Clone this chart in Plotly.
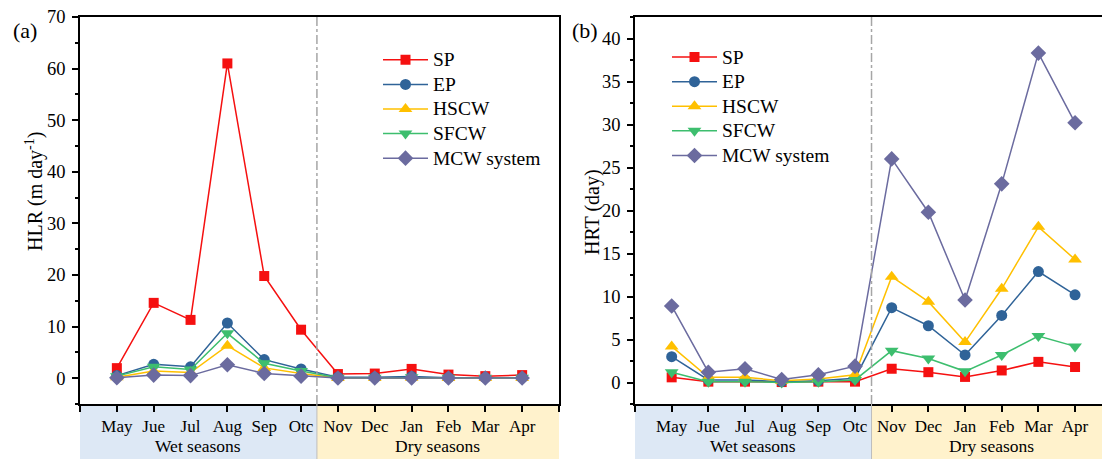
import plotly.graph_objects as go

months = ["May", "Jue", "Jul", "Aug", "Sep", "Otc", "Nov", "Dec", "Jan", "Feb", "Mar", "Apr"]
series_names = ["SP", "EP", "HSCW", "SFCW", "MCW system"]

# HLR (m day-1)
hlr_sp = [1.95, 14.6, 11.3, 61.0, 19.8, 9.4, 0.8, 0.9, 1.8, 0.7, 0.4, 0.6]
hlr_ep = [0.5, 2.7, 2.2, 10.7, 3.6, 1.8, 0.2, 0.2, 0.35, 0.1, 0.1, 0.1]
hlr_hscw = [0.2, 1.4, 1.1, 6.3, 2.0, 0.9, 0.05, 0.05, 0.1, 0.05, 0.05, 0.05]
hlr_sfcw = [0.4, 2.2, 1.7, 8.7, 2.9, 1.4, 0.1, 0.1, 0.2, 0.1, 0.1, 0.1]
hlr_mcw = [0.1, 0.6, 0.5, 2.6, 0.9, 0.4, 0.03, 0.03, 0.05, 0.03, 0.03, 0.03]

# HRT (day)
hrt_sp = [0.6, 0.1, 0.1, 0.05, 0.1, 0.1, 1.6, 1.2, 0.65, 1.4, 2.4, 1.8]
hrt_ep = [3.0, 0.3, 0.3, 0.1, 0.2, 0.5, 8.7, 6.6, 3.2, 7.8, 12.9, 10.2]
hrt_hscw = [4.2, 0.6, 0.6, 0.2, 0.4, 0.9, 12.3, 9.4, 4.7, 10.9, 18.1, 14.3]
hrt_sfcw = [1.2, 0.1, 0.1, 0.0, 0.1, 0.3, 3.7, 2.8, 1.3, 3.2, 5.4, 4.2]
hrt_mcw = [8.9, 1.2, 1.6, 0.35, 0.9, 1.9, 26.0, 19.8, 9.6, 23.1, 38.3, 30.2]

season_labels = ["Wet seasons", "Dry seasons"]

colors = ["#F51010", "#2F6398", "#FFC000", "#3DBE6E", "#6B6B9F"]
symbols = ["square", "circle", "triangle-up", "triangle-down", "diamond"]
msizes = [10, 11, 12, 12, 12]

FONT = "Liberation Serif"
xidx = list(range(len(months)))

fig = go.Figure()
left = [hlr_sp, hlr_ep, hlr_hscw, hlr_sfcw, hlr_mcw]
right = [hrt_sp, hrt_ep, hrt_hscw, hrt_sfcw, hrt_mcw]


def leg_name(n):
    return f"<span style='font-size:19.5px'>{n}</span>"


for i, name in enumerate(series_names):
    fig.add_trace(go.Scatter(x=xidx, y=left[i], name=leg_name(name), mode="lines+markers",
                             line=dict(color=colors[i], width=1.5),
                             marker=dict(symbol=symbols[i], size=msizes[i], color=colors[i]),
                             xaxis="x", yaxis="y", legend="legend"))
for i, name in enumerate(series_names):
    fig.add_trace(go.Scatter(x=xidx, y=right[i], name=leg_name(name), mode="lines+markers",
                             line=dict(color=colors[i], width=1.5),
                             marker=dict(symbol=symbols[i], size=msizes[i], color=colors[i]),
                             xaxis="x2", yaxis="y2", legend="legend2"))

W, H = 1102, 459
tickvals = list(range(-1, 13))
ticktext = [""] + months + [""]

xl_range = [-1, 12]
xr_range = [-1, 11.735]
div_l = 5.43
div_r = 5.45
band_y = -0.141


def xaxis(domain, rng):
    return dict(domain=domain, range=rng, tickvals=tickvals, ticktext=ticktext,
                ticks="outside", ticklen=6, tickwidth=1.5, tickcolor="black",
                showline=True, linecolor="black", linewidth=1.5, mirror=True,
                showgrid=False, zeroline=False,
                tickfont=dict(family=FONT, size=17, color="black"), ticklabelstandoff=0)


fig.update_layout(
    width=W, height=H,
    margin=dict(l=0, r=0, t=17, b=55),
    paper_bgcolor="white", plot_bgcolor="white",
    xaxis=xaxis([80 / W, 559 / W], xl_range),
    xaxis2=xaxis([635 / W, 1.0], xr_range),
    yaxis=dict(anchor="x", range=[-5, 70], tickvals=list(range(0, 71, 10)),
               ticks="outside", ticklen=6, tickwidth=1.5, tickcolor="black",
               minor=dict(dtick=5, tick0=0, ticks="outside", ticklen=3.5, tickwidth=1.5, tickcolor="black"),
               showline=True, linecolor="black", linewidth=1.5, mirror=True,
               showgrid=False, zeroline=False,
               tickfont=dict(family=FONT, size=18.5, color="black"), ticklabelstandoff=3),
    yaxis2=dict(anchor="x2", range=[-2.5, 42.5], tickvals=list(range(0, 41, 5)),
                ticks="outside", ticklen=6, tickwidth=1.5, tickcolor="black",
                minor=dict(dtick=2.5, tick0=0, ticks="outside", ticklen=3.5, tickwidth=1.5, tickcolor="black"),
                showline=True, linecolor="black", linewidth=1.5, mirror=False,
                showgrid=False, zeroline=False,
                tickfont=dict(family=FONT, size=18.5, color="black"), ticklabelstandoff=3),
    legend=dict(x=378 / W, y=0.934, xanchor="left", yanchor="top",
                font=dict(family=FONT, size=16.6, color="black"), itemwidth=45,
                bgcolor="rgba(0,0,0,0)", tracegroupgap=0),
    legend2=dict(x=667 / W, y=0.941, xanchor="left", yanchor="top",
                 font=dict(family=FONT, size=16.6, color="black"), itemwidth=45,
                 bgcolor="rgba(0,0,0,0)", tracegroupgap=0),
    showlegend=True,
)


def dom(v, rng):
    return (v - rng[0]) / (rng[1] - rng[0])


shapes = []
for xa, ya, rng, dv in [("x", "y", xl_range, div_l), ("x2", "y2", xr_range, div_r)]:
    d = dom(dv, rng)
    shapes.append(dict(type="rect", xref=f"{xa} domain", yref=f"{ya} domain",
                       x0=0, x1=d, y0=band_y - 0.01, y1=0, fillcolor="#DDE8F5",
                       line=dict(width=0), layer="below"))
    shapes.append(dict(type="rect", xref=f"{xa} domain", yref=f"{ya} domain",
                       x0=d, x1=min(1.0, dom(12, rng)), y0=band_y - 0.01, y1=0, fillcolor="#FFF2CC",
                       line=dict(width=0), layer="below"))
    shapes.append(dict(type="line", xref=f"{xa} domain", yref=f"{ya} domain",
                       x0=d, x1=d, y0=0, y1=1,
                       line=dict(color="#A6A6A6", width=1.5, dash="dashdot")))
    shapes.append(dict(type="line", xref=f"{xa} domain", yref=f"{ya} domain",
                       x0=d, x1=d, y0=band_y - 0.01, y1=0,
                       line=dict(color="#BDBDBD", width=1)))
fig.update_layout(shapes=shapes)

ann = []
for xa, ya, dv in [("x", "y", div_l), ("x2", "y2", div_r)]:
    ann.append(dict(xref=xa, yref=f"{ya} domain", x=(-1 + dv) / 2, y=-0.109,
                    text=season_labels[0], showarrow=False, xanchor="center", yanchor="middle",
                    font=dict(family=FONT, size=17.5, color="black")))
    ann.append(dict(xref=xa, yref=f"{ya} domain", x=(dv + 12) / 2, y=-0.109,
                    text=season_labels[1], showarrow=False, xanchor="center", yanchor="middle",
                    font=dict(family=FONT, size=17.5, color="black")))
ann.append(dict(xref="paper", yref="paper", x=34 / W, y=1 - (192 - 17) / 387, textangle=-90,
                text="HLR (m day<sup>-1</sup>)", showarrow=False, xanchor="center", yanchor="middle",
                font=dict(family=FONT, size=20, color="black")))
ann.append(dict(xref="paper", yref="paper", x=592 / W, y=1 - (212 - 17) / 387, textangle=-90,
                text="HRT (day)", showarrow=False, xanchor="center", yanchor="middle",
                font=dict(family=FONT, size=20, color="black")))
ann.append(dict(xref="paper", yref="paper", x=25 / W, y=1 - (31 - 17) / 387,
                text="(a)", showarrow=False, xanchor="center", yanchor="middle",
                font=dict(family=FONT, size=22, color="black")))
ann.append(dict(xref="paper", yref="paper", x=585 / W, y=1 - (31 - 17) / 387,
                text="(b)", showarrow=False, xanchor="center", yanchor="middle",
                font=dict(family=FONT, size=22, color="black")))
fig.update_layout(annotations=ann)

fig.write_html("out.html")
